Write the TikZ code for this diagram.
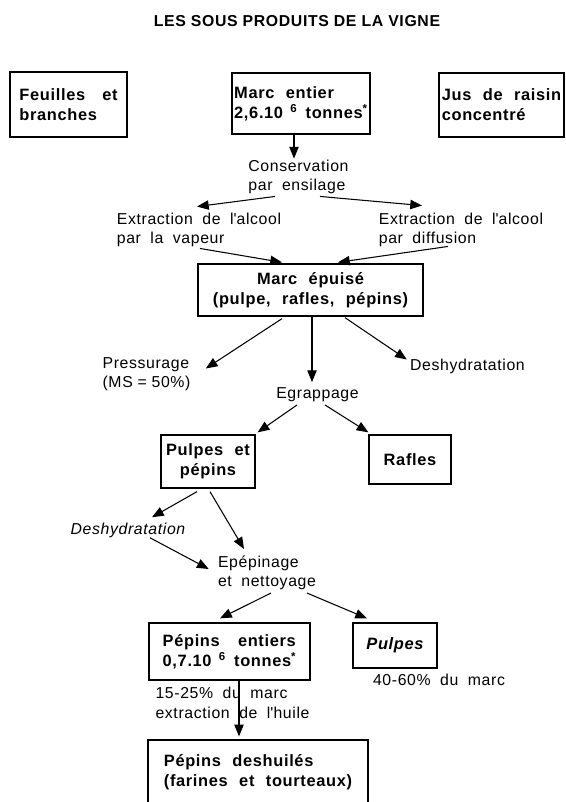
\documentclass[tikz,border=0pt]{standalone}
\usepackage{fontspec}
\setmainfont{Liberation Sans}[LetterSpace=4]
\usetikzlibrary{arrows.meta, positioning, calc}

\begin{document}
\begin{tikzpicture}[x=0.03cm, y=-0.03cm,
      box/.style={rectangle, draw, line width=1.1pt, inner sep=2pt,
        font={\bfseries\fontsize{14}{17}\selectfont\spaceskip=0.7em plus 0.2em}},
      etape/.style={inner sep=1pt, align=left,
        font={\fontsize{13.5}{16.5}\selectfont\spaceskip=0.6em plus 0.2em}},
      fleche/.style={-{Triangle[length=10pt, width=8pt]}, line width=0.9pt}]

      \useasboundingbox (0,0) rectangle (566,802);
      \clip (0,0) rectangle (566,802);

      \node[font={\bfseries\fontsize{13.5}{16}\selectfont}] (titre) at (297,21.5) {LES SOUS PRODUITS DE LA VIGNE};

      % Products of the vine
      \node[box, align=left, minimum width=3.51cm, minimum height=1.95cm] (feuilles) at (68.5,104.5) {\makebox[2.94cm][l]{Feuilles\hfill et}\\branches};
      \node[box, align=left, minimum width=4.14cm, minimum height=1.83cm] (marcent) at (301,103.5) {Marc entier\\2,6.10\hspace{0.45em}\textsuperscript{6}\hspace{0.5em}tonnes\textsuperscript{*}};
      \node[box, align=left, minimum width=3.75cm, minimum height=1.92cm] (jus) at (501.5,105) {Jus de raisin\\concentré};

      \node[etape] (conserv) at (298.5,177) {Conservation\\par ensilage};
      \node[etape] (vapeur) at (199,230) {Extraction de l\textquotesingle alcool\\par la vapeur};
      \node[etape] (diffusion) at (461,230) {Extraction de l\textquotesingle alcool\\par diffusion};

      \node[box, align=center, minimum width=6.75cm, minimum height=1.56cm] (marcep) at (310.5,290) {Marc épuisé\\(pulpe, rafles, pépins)};

      \node[etape] (pressur) at (146.5,374) {Pressurage\\(MS\hspace{0.3em}=\hspace{0.3em}50\%)};
      \node[etape] (deshyda) at (467.5,366.5) {Deshydratation};
      \node[etape] (egrap) at (317.5,394.5) {Egrappage};

      \node[box, align=center, minimum width=2.82cm, minimum height=1.59cm] (pulpep) at (208,461.5) {Pulpes et\\pépins};
      \node[box, minimum width=2.46cm, minimum height=1.47cm] (rafles) at (410,459.5) {Rafles};

      \node[etape, font={\itshape\fontsize{13.5}{16.5}\selectfont}] (deshydb) at (128,530) {Deshydratation};
      \node[etape] (epep) at (267,572.5) {Epépinage\\et nettoyage};

      \node[box, align=left, minimum width=4.83cm, minimum height=1.71cm] (pepent) at (229.5,651.5) {\makebox[3.99cm][l]{Pépins\hfill entiers}\\0,7.10\hspace{0.45em}\textsuperscript{6}\hspace{0.5em}tonnes\textsuperscript{*}};
      \node[box, minimum width=2.52cm, minimum height=1.35cm] (pulpes) at (395,645.5) {\itshape Pulpes};
      \node[etape] (pcta) at (439,680) {40-60\% du marc};
      \node[etape] (pctb) at (232.5,703) {15-25\% du marc\\extraction de l\textquotesingle huile};

      \node[box, align=left, minimum width=6.6cm, minimum height=2.58cm] (pepdes) at (258,783) {Pépins deshuilés\\(farines et tourteaux)\\\strut};

      % Arrows
      \draw[fleche] ($(marcent.south)+(-7,0)$) -- ($(conserv.north)+(-4.5,0)$);
      \draw[fleche] ($(conserv.south)+(-23.5,1)$) -- ($(vapeur.north)+(-2,-5)$);
      \draw[fleche] ($(conserv.south)+(21.5,1)$) -- ($(diffusion.north)+(-39,-6)$);
      \draw[fleche] ($(vapeur.south)+(1,0)$) -- ($(marcep.north)+(-28.5,-1)$);
      \draw[fleche] ($(diffusion.south)+(-13,-2)$) -- ($(marcep.north)+(27.5,-1)$);
      \draw[fleche] ($(marcep.south)+(-28.5,2)$) -- ($(pressur.east)+(14,-5.5)$);
      \draw[fleche] ($(marcep.south)+(1.5,0)$) -- ($(egrap.north)+(-5.5,-4)$);
      \draw[fleche] ($(marcep.south)+(34.5,1)$) -- ($(deshyda.west)+(-2,-7)$);
      \draw[fleche] ($(egrap.south)+(-20.5,2)$) -- ($(pulpep.north east)+(2,-2)$);
      \draw[fleche] ($(egrap.south)+(7.5,2)$) -- ($(rafles.north west)+(0,-2)$);
      \draw[fleche] ($(pulpep.south)+(-11,3)$) -- ($(deshydb.north)+(24,-4)$);
      \draw[fleche] ($(pulpep.south)+(2,3)$) -- ($(epep.north)+(-23,-5)$);
      \draw[fleche] ($(deshydb.south)+(22,-1)$) -- ($(epep.west)+(-8,-3.5)$);
      \draw[fleche] ($(epep.south)+(4,2)$) -- ($(pepent.north)+(-9.5,-4)$);
      \draw[fleche] ($(epep.south)+(40,2)$) -- ($(pulpes.north)+(-28,-4)$);
      \draw[fleche] ($(pepent.south)+(9.5,0)$) -- ($(pepdes.north)+(-19,-3)$);
\end{tikzpicture}
\end{document}
